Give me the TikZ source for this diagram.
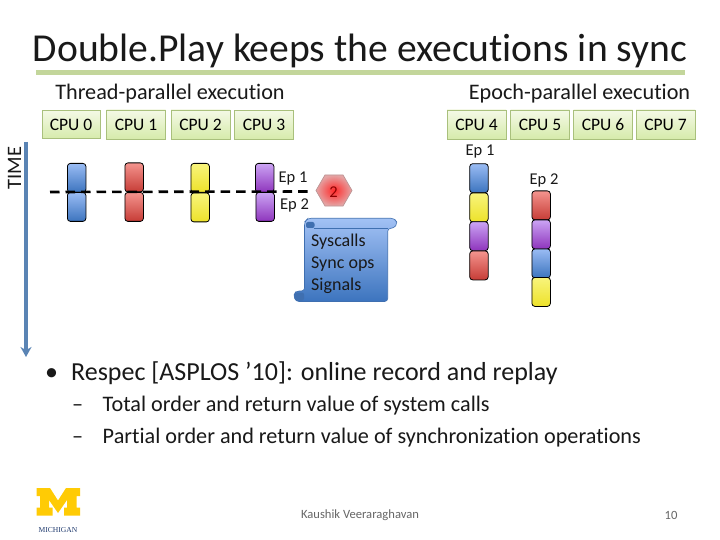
\documentclass[tikz,border=0pt]{standalone}
\usepackage{fontspec}
\setmainfont[Ligatures=NoCommon]{Carlito}
\newfontfamily\logofont{Liberation Serif}
\usetikzlibrary{shapes.geometric,arrows.meta}
\definecolor{boxtop}{HTML}{F4F9E6}
\definecolor{boxbot}{HTML}{D6EBAB}
\definecolor{boxline}{HTML}{A9C07C}
\definecolor{rulecol}{HTML}{C3D69B}
\definecolor{arrowcol}{HTML}{5A84B4}
\definecolor{scrolltop}{HTML}{9ABCF4}
\definecolor{scrollbot}{HTML}{3C74BE}
\definecolor{scrollline}{HTML}{3F6FB0}
\definecolor{scrolldark}{HTML}{3F6FB0}
\definecolor{logoyellow}{HTML}{FFCB05}
\definecolor{logoblue}{HTML}{1F3A6E}
\definecolor{redtop}{HTML}{F4948E}
\definecolor{redbot}{HTML}{C63C36}
\definecolor{yeltop}{HTML}{F8F47C}
\definecolor{yelbot}{HTML}{EDE22A}
\definecolor{purtop}{HTML}{CBA4F4}
\definecolor{purbot}{HTML}{8E34BC}
\definecolor{hexin}{HTML}{FF2A2A}
\definecolor{hexout}{HTML}{E4A6A6}
\definecolor{hexline}{HTML}{BC9494}
\tikzset{
  txt/.style={inner sep=0pt,text=black!90},
  title/.style={txt,font=\fontsize{39.6}{44}\selectfont},
  heading/.style={txt,font=\fontsize{22.2}{26}\selectfont},
  cpubox/.style={draw=boxline,line width=0.8pt,top color=boxtop,bottom color=boxbot,
    minimum width=59pt,minimum height=29pt,inner sep=0pt,font=\fontsize{17.5}{20}\selectfont},
  eplabel/.style={txt,font=\fontsize{16.5}{20}\selectfont},
  scrolltext/.style={txt,anchor=west,font=\fontsize{18}{20}\selectfont},
  bodytext/.style={txt,anchor=west,font=\fontsize{26}{30}\selectfont},
  subtext/.style={txt,anchor=west,font=\fontsize{22.2}{26}\selectfont},
  foot/.style={inner sep=0pt,text=black!60,font=\fontsize{12.6}{15}\selectfont},
  seg/.style={draw=black,line width=0.8pt,rounded corners=3pt,minimum width=18.5pt,
    minimum height=29pt,inner sep=0pt,anchor=north west},
  bluebar/.style={seg,top color=scrolltop,bottom color=scrollbot},
  redbar/.style={seg,top color=redtop,bottom color=redbot},
  yellowbar/.style={seg,top color=yeltop,bottom color=yelbot},
  purplebar/.style={seg,top color=purtop,bottom color=purbot},
}
\begin{document}
\begin{tikzpicture}[x=1pt,y=-1pt]
\useasboundingbox[fill=white] (0,0) rectangle (720,540);

% title
\node[title] (ttl) at (360,50.5) {Double.Play keeps the executions in sync};
\fill[rulecol] (36,70.5) rectangle (685,75);

% headings
\node[heading] (h1) at (170,93.5) {Thread-parallel execution};
\node[heading] (h2) at (579.5,94) {Epoch-parallel execution};

% CPU boxes
\node[cpubox,minimum width=58pt,minimum height=28.5pt] (c0) at (71,124.5) {CPU 0};
\node[cpubox] (c1) at (136,124.5) {CPU 1};
\node[cpubox] (c2) at (200.5,124.5) {CPU 2};
\node[cpubox] (c3) at (264,125) {CPU 3};
\node[cpubox] (c4) at (476.5,124.5) {CPU 4};
\node[cpubox] (c5) at (540,124.5) {CPU 5};
\node[cpubox] (c6) at (603,124.5) {CPU 6};
\node[cpubox] (c7) at (665.5,124.5) {CPU 7};

% time arrow
\node[txt,rotate=90,font=\fontsize{20.5}{24}\selectfont] (time) at (14.5,168) {TIME};
\coordinate (t0) at (26,142);
\coordinate (t1) at (26,357);
\draw[arrowcol,line width=3.2pt,-{Stealth[length=10pt,width=11pt]}] (t0) -- (t1);

% thread-parallel bars
\node[bluebar] (a1) at (67,163) {};
\node[bluebar] (a2) at (67,192) {};
\node[redbar] (b1) at (124.5,162.5) {};
\node[redbar] (b2) at (124.5,192) {};
\node[yellowbar] (d1) at (190.5,163) {};
\node[yellowbar] (d2) at (190.5,192.5) {};
\node[purplebar] (e1) at (255,163) {};
\node[purplebar] (e2) at (255.5,192) {};

% epoch divider
\coordinate (dl) at (50,192);
\coordinate (dr) at (310,191.5);
\draw[black,line width=2.6pt,dash pattern=on 9.5pt off 6pt] (dl) -- (dr);
\node[eplabel] (ep1) at (293,178.5) {Ep 1};
\node[eplabel] (ep2) at (294.5,205.5) {Ep 2};

% hexagon
\node[regular polygon,regular polygon sides=6,minimum size=36pt,inner sep=0pt,
  draw=hexline,line width=0.7pt,inner color=hexin,outer color=hexout] (hex) at (334,190.5) {};
\node[inner sep=0pt,text=red!55!black,font=\fontsize{16.5}{20}\selectfont] (hexn) at (333.5,192.5) {2};

% scroll
\shade[top color=scrolltop!92!white,bottom color=scrollbot,draw=scrollline,line width=0.6pt,rounded corners=3pt]
  (305,301.5) -- (296,301.5) -- (293.5,296) -- (296,291) -- (304.5,291) -- (304.5,222)
  -- (308,218.3) -- (394,218.3) -- (397.5,223) -- (394,228.3) -- (387.7,228.3)
  -- (387.7,301.5) -- cycle;
\draw[scrollline,line width=0.6pt] (314,228.3) -- (387.7,228.3);
\fill[scrolldark,rounded corners=2pt] (306,228) rectangle (314.5,222);
\fill[scrolldark,rounded corners=2pt] (295,300.5) rectangle (304,292.5);
\node[scrolltext] (s1) at (311,242) {Syscalls};
\node[scrolltext] (s2) at (311,264) {Sync ops};
\node[scrolltext] (s3) at (311,285.5) {Signals};

% epoch-parallel bars
\node[eplabel] (ep1r) at (480,151.5) {Ep 1};
\node[bluebar] (f1) at (469.3,163.3) {};
\node[yellowbar] (f2) at (469.3,192.5) {};
\node[purplebar] (f3) at (469.3,221.3) {};
\node[redbar] (f4) at (469.3,250.5) {};
\node[eplabel] (ep2r) at (544,180) {Ep 2};
\node[redbar] (g1) at (531.5,190.5) {};
\node[purplebar] (g2) at (531.5,219.5) {};
\node[bluebar] (g3) at (531.5,248.5) {};
\node[yellowbar] (g4) at (531.5,277) {};

% body text
\node[bodytext] (b0) at (45,373) {\textbullet\hspace{13pt}Respec [ASPLOS ’10]: online record and replay};
\node[subtext] (b3) at (72,406) {–\hspace{19.5pt}Total order and return value of system calls};
\node[subtext] (b4) at (72,438) {–\hspace{19.5pt}Partial order and return value of synchronization operations};

% logo
\fill[logoyellow] (36.5,488) -- (50,488) -- (58,500.5) -- (66,488) -- (80,488) -- (80,496) -- (76.5,496)
  -- (76.5,507.5) -- (80,507.5) -- (80,515.5) -- (64,515.5) -- (64,507.5) -- (67,507.5) -- (67,500)
  -- (58,513) -- (49,500) -- (49,507.5) -- (52.5,507.5) -- (52.5,515.5) -- (36.5,515.5) -- (36.5,507.5)
  -- (40,507.5) -- (40,496) -- (36.5,496) -- cycle;
\node[inner sep=0pt,text=logoblue,font=\logofont\fontsize{7.6}{9}\selectfont] (logo) at (58,530) {MICHIGAN};

% footer
\node[foot] (f) at (360,515) {Kaushik Veeraraghavan};
\node[foot] (pg) at (671,515) {10};
\end{tikzpicture}
\end{document}
